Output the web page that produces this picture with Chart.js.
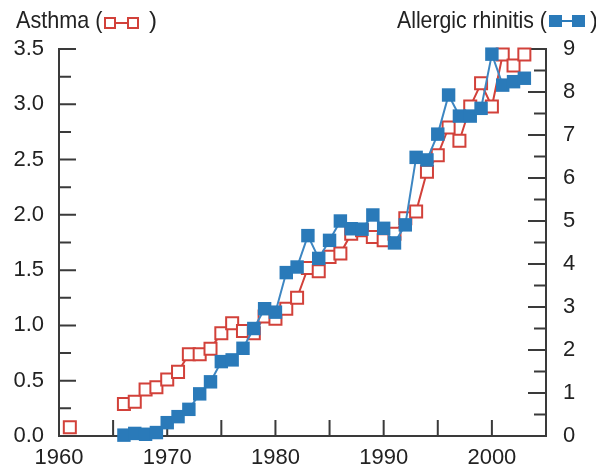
<!DOCTYPE html>
<html>
<head>
<meta charset="utf-8">
<script src="https://cdn.jsdelivr.net/npm/chart.js@4/dist/chart.umd.min.js"></script>
<style>
  html, body { margin: 0; padding: 0; background: #fff; overflow: hidden; }
  #wrap { position: relative; width: 596px; height: 470px; overflow: hidden; }
  .ttl { position: absolute; top: 6px; font-family: "Liberation Sans", Arial, sans-serif;
         font-size: 24px; line-height: 28px; color: #222; white-space: nowrap;
         transform-origin: 0 0; }
  .sq { position: absolute; box-sizing: border-box; }
  .ln { position: absolute; height: 2px; }
  .red.sq { border: 2px solid #d2413a; background: #fff; }
  .red.ln { background: #d2413a; }
  .blue { background: #2a7ab9; }
</style>
</head>
<body>
<div id="wrap">
  <canvas id="chart" width="596" height="470"></canvas>
  <div class="ttl" style="left:16px; transform: scaleX(0.9)">Asthma (</div>
  <div class="red ln" style="left:114px; top:22px; width:15px"></div>
  <div class="red sq" style="left:104px; top:17px; width:12px; height:12px"></div>
  <div class="red sq" style="left:127px; top:17px; width:12px; height:12px"></div>
  <div class="ttl" style="left:149px">)</div>

  <div class="ttl" style="left:397px; transform: scaleX(0.885)">Allergic rhinitis (</div>
  <div class="blue ln" style="left:560px; top:20px; width:15px"></div>
  <div class="blue sq" style="left:549px; top:15px; width:13px; height:12px"></div>
  <div class="blue sq" style="left:572px; top:15px; width:13px; height:12px"></div>
  <div class="ttl" style="left:590px">)</div>
</div>
<script>
var years = [1961, 1966, 1967, 1968, 1969, 1970, 1971, 1972, 1973, 1974, 1975, 1976, 1977, 1978, 1979,
             1980, 1981, 1982, 1983, 1984, 1985, 1986, 1987, 1988, 1989, 1990, 1991, 1992, 1993, 1994,
             1995, 1996, 1997, 1998, 1999, 2000, 2001, 2002, 2003];
var asthma = [0.08, 0.29, 0.31, 0.42, 0.44, 0.51, 0.58, 0.74, 0.74, 0.79, 0.93, 1.02, 0.95, 0.93, 1.08,
              1.06, 1.15, 1.25, 1.52, 1.49, 1.62, 1.65, 1.83, 1.86, 1.80, 1.77, 1.83, 1.97, 2.03, 2.39,
              2.54, 2.79, 2.67, 2.98, 3.19, 2.98, 3.45, 3.35, 3.45];
var rhinitis = [null, 0.02, 0.06, 0.04, 0.08, 0.31, 0.45, 0.62, 0.98, 1.26, 1.73, 1.77, 2.04, 2.50, 2.96,
                2.88, 3.80, 3.93, 4.66, 4.13, 4.55, 5.00, 4.82, 4.81, 5.14, 4.83, 4.49, 4.91, 6.48, 6.42,
                7.02, 7.93, 7.44, 7.44, 7.62, 8.88, 8.16, 8.24, 8.32];
var xTicks = [1960, 1970, 1980, 1990, 2000];
var asthmaTicks = [0, 0.5, 1.0, 1.5, 2.0, 2.5, 3.0, 3.5];
var rhinitisTicks = [0, 1, 2, 3, 4, 5, 6, 7, 8, 9];

var RED = '#d2413a', BLUE = '#2a7ab9', AXIS = '#3a3a3a';
var FONT = { family: '"Liberation Sans", Arial, sans-serif', size: 22 };

function pts(vals) {
    return years.map(function (y, i) { return { x: y, y: vals[i] }; });
}
function fixTicks(list) {
    return function (scale) { scale.ticks = list.map(function (v) { return { value: v }; }); };
}
// no connecting line across the survey gap (1961 -> 1966)
function gapColor(color) {
    return function (c) { return c.p1.parsed.x - c.p0.parsed.x > 1 ? 'rgba(0,0,0,0)' : color; };
}

// little inward tick marks, like the printed figure
var tickMarks = {
    id: 'tickMarks',
    beforeDatasetsDraw: function (chart) {
        var ctx = chart.ctx, a = chart.chartArea;
        var sx = chart.scales.x, sy = chart.scales.y, sy2 = chart.scales.y2;
        ctx.save();
        ctx.strokeStyle = AXIS;
        ctx.lineWidth = 2;
        ctx.beginPath();
        for (var yr = 1965; yr <= 2000; yr += 5) {
            var px = sx.getPixelForValue(yr);
            ctx.moveTo(px, a.bottom); ctx.lineTo(px, a.bottom - 16);
        }
        for (var k = 1; k <= 14; k++) {
            var v = k * 0.25, py = sy.getPixelForValue(v);
            ctx.moveTo(a.left, py); ctx.lineTo(a.left + (k % 2 === 0 ? 17 : 12), py);
        }
        for (var j = 1; j <= 18; j++) {
            var w = j * 0.5, qy = sy2.getPixelForValue(w);
            ctx.moveTo(a.right, qy); ctx.lineTo(a.right - (j % 2 === 0 ? 18 : 12), qy);
        }
        ctx.stroke();
        ctx.restore();
    }
};

var ctx = document.getElementById('chart').getContext('2d');
window.chart = new Chart(ctx, {
    type: 'line',
    data: {
        datasets: [{
            label: 'Allergic rhinitis',
            data: pts(rhinitis),
            yAxisID: 'y2',
            order: 0,
            borderColor: '#3d86c2',
            borderWidth: 2,
            pointStyle: 'rect',
            pointRadius: 9.5,
            pointBackgroundColor: BLUE,
            pointBorderColor: BLUE,
            pointBorderWidth: 0,
            clip: false
        }, {
            label: 'Asthma',
            data: pts(asthma),
            yAxisID: 'y',
            order: 1,
            borderColor: RED,
            borderWidth: 2,
            segment: { borderColor: gapColor(RED) },
            pointStyle: 'rect',
            pointRadius: 8.5,
            pointBackgroundColor: '#fff',
            pointBorderColor: RED,
            pointBorderWidth: 2,
            clip: false
        }]
    },
    options: {
        responsive: false,
        animation: false,
        devicePixelRatio: 1,
        layout: { padding: { top: 49, left: 0, right: 0, bottom: 0 } },
        plugins: { legend: { display: false }, tooltip: { enabled: false } },
        scales: {
            x: {
                type: 'linear', min: 1960, max: 2005,
                afterBuildTicks: fixTicks(xTicks),
                afterFit: function (s) { s.height = 34; },
                grid: { display: false },
                border: { display: true, color: AXIS, width: 2 },
                ticks: { font: FONT, color: '#222', padding: 1, maxRotation: 0,
                         callback: function (v) { return String(v); } }
            },
            y: {
                position: 'left', min: 0, max: 3.5,
                afterBuildTicks: fixTicks(asthmaTicks),
                afterFit: function (s) { s.width = 59; },
                grid: { display: false },
                border: { display: true, color: AXIS, width: 2 },
                ticks: { font: FONT, color: '#222', padding: 7,
                         callback: function (v) { return v.toFixed(1); } }
            },
            y2: {
                position: 'right', min: 0, max: 9,
                afterBuildTicks: fixTicks(rhinitisTicks),
                afterFit: function (s) { s.width = 50; },
                grid: { display: false },
                border: { display: true, color: AXIS, width: 2 },
                ticks: { font: FONT, color: '#222', padding: 9 }
            }
        }
    },
    plugins: [tickMarks]
});
</script>
</body>
</html>
